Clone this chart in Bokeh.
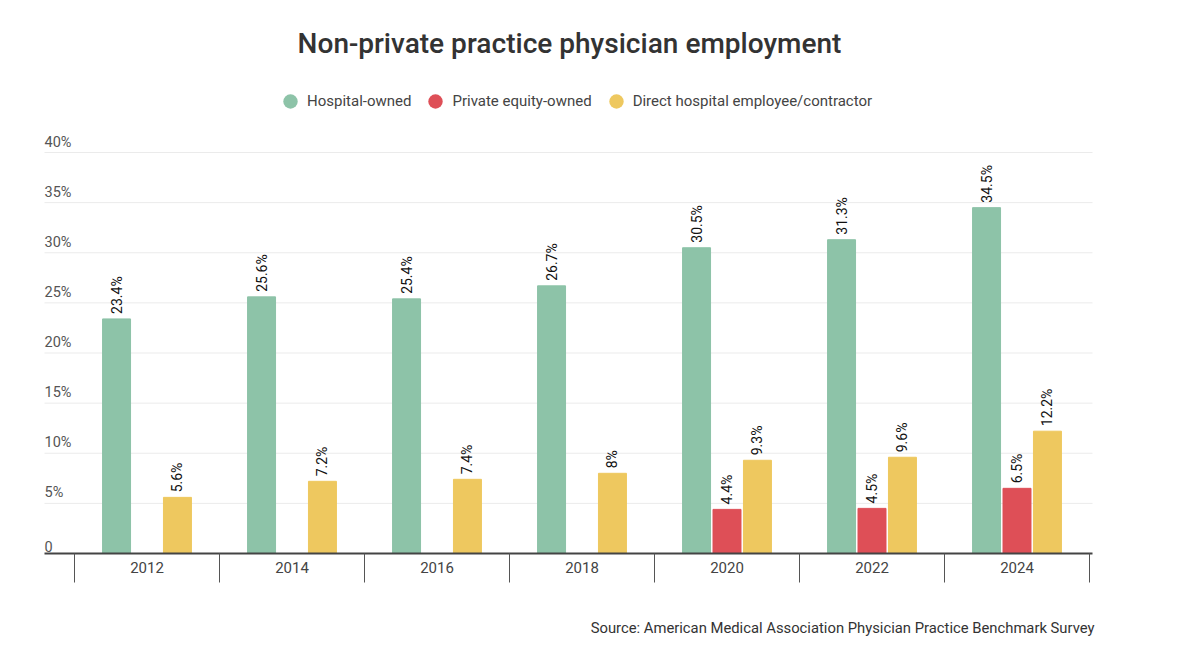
import math
from bokeh.plotting import figure
from bokeh.models import (Range1d, LinearAxis, FixedTicker, Legend, LegendItem,
                          Label, Title, ColumnDataSource)
from bokeh.core.properties import value
from bokeh.embed import file_html
from bokeh.resources import INLINE

# --- data -------------------------------------------------------------------
years = ["2012", "2014", "2016", "2018", "2020", "2022", "2024"]
hospital_owned = [23.4, 25.6, 25.4, 26.7, 30.5, 31.3, 34.5]
pe_owned = [None, None, None, None, 4.4, 4.5, 6.5]
direct_employee = [5.6, 7.2, 7.4, 8.0, 9.3, 9.6, 12.2]
series_names = ["Hospital-owned", "Private equity-owned", "Direct hospital employee/contractor"]
y_ticks = [0, 5, 10, 15, 20, 25, 30, 35, 40]
y_tick_labels = ["0", "5%", "10%", "15%", "20%", "25%", "30%", "35%", "40%"]

# --- style ------------------------------------------------------------------
GREEN, RED, YELLOW = "#8DC3A8", "#DE4F57", "#EEC85F"
FONT = "Roboto"
TEXT = "#444444"

W, H = 1192, 667
GROUP_PX = 145            # pixel width of one year group
LEFT_PX = 74              # pixel position of the first group's left edge
ZERO_PX = 553             # pixel row of the zero line
PCT_PX = 10.025           # pixels per percentage point

x_start, x_end = -LEFT_PX / GROUP_PX, (W - LEFT_PX) / GROUP_PX
y_end = ZERO_PX / PCT_PX
plot_lo, plot_hi = -30 / GROUP_PX, len(years) + 3 / GROUP_PX   # extent of axis/grid

p = figure(width=W, height=H, output_backend="svg", toolbar_location=None,
           x_axis_location=None, y_axis_location=None,
           x_range=Range1d(x_start, x_end), y_range=Range1d(0, y_end),
           min_border_left=0, min_border_right=0, min_border_top=0,
           min_border_bottom=H - ZERO_PX,
           background_fill_color="white", border_fill_color="white",
           outline_line_color=None)
p.grid.visible = False

# horizontal gridlines
p.segment(x0=[plot_lo] * len(y_ticks), x1=[plot_hi] * len(y_ticks),
          y0=y_ticks, y1=y_ticks, line_color="#EBEBEB", line_width=1)

centers = [i + 0.5 for i in range(len(years))]
step, bw = 0.21, 0.193


def fmt(v):
    return f"{v:g}%"


def bars(vals, dx, color):
    xs = [c + dx for c, v in zip(centers, vals) if v is not None]
    vs = [v for v in vals if v is not None]
    src = ColumnDataSource(dict(x=xs, top=vs, label=[fmt(v) for v in vs]))
    p.vbar(x="x", top="top", bottom=0, width=bw, color=color, source=src)
    p.text(x="x", y="top", text="label", source=src, angle=math.pi / 2,
           text_align="left", text_baseline="middle", y_offset=-5,
           text_font=value(FONT), text_font_size="14px", text_color="#111111")


bars(hospital_owned, -step, GREEN)
bars(pe_owned, 0, RED)
bars(direct_employee, step, YELLOW)

# y tick labels sit inside the plot, above each gridline
ysrc = ColumnDataSource(dict(x=[plot_lo] * len(y_ticks), y=y_ticks, t=y_tick_labels))
p.text(x="x", y="y", text="t", source=ysrc, text_align="left", text_baseline="bottom",
       y_offset=-2, text_font=value(FONT), text_font_size="14.5px", text_color="#555555")

# category axis with separator ticks between groups
xaxis = LinearAxis(ticker=FixedTicker(ticks=centers, minor_ticks=list(range(len(years) + 1))),
                   major_label_overrides={c: y for c, y in zip(centers, years)},
                   bounds=(plot_lo, plot_hi),
                   axis_line_color="#444444", axis_line_width=2,
                   major_tick_out=0, major_tick_in=0,
                   minor_tick_out=29, minor_tick_in=0,
                   minor_tick_line_color="#555555", minor_tick_line_width=1,
                   major_label_standoff=-21,
                   major_label_text_font=FONT, major_label_text_font_size="15px",
                   major_label_text_color=TEXT)
p.add_layout(xaxis, "below")

# source note under the axis (leading blank line pushes it lower in the panel)
p.add_layout(Title(text="\nSource: American Medical Association Physician Practice Benchmark Survey",
                   align="right", offset=W - 1094, standoff=47,
                   text_font=FONT, text_font_size="14.8px",
                   text_font_style="normal", text_color="#333333"), "below")

# legend with round markers (each marker renderer holds one point outside the view)
items = []
for name, color in zip(series_names, [GREEN, RED, YELLOW]):
    r = p.ellipse(x=[x_start - 10], y=[0], width=14, height=14,
                  width_units="screen", height_units="screen",
                  fill_color=color, line_color=None)
    items.append(LegendItem(label=name, renderers=[r]))
legend = Legend(items=items, orientation="horizontal", location=(281, 443),
                glyph_width=18, glyph_height=18, label_standoff=8, spacing=15,
                padding=0, margin=0, border_line_alpha=0, background_fill_alpha=0,
                label_text_font=FONT, label_text_font_size="15px", label_text_color=TEXT)
p.add_layout(legend, "center")

# chart title
p.add_layout(Label(x=569, y=ZERO_PX - 43, x_units="screen", y_units="screen",
                   text="Non-private practice physician employment",
                   text_align="center", text_baseline="middle",
                   text_font="'Roboto Medium', Roboto", text_font_size="28px",
                   text_color="#333333"))

open("out.html", "w").write(file_html(p, INLINE))
